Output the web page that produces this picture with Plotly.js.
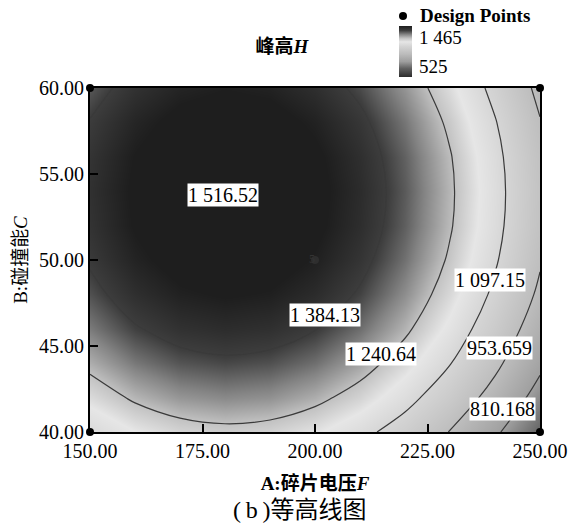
<!DOCTYPE html>
<html>
<head>
<meta charset="utf-8">
<script src="https://cdn.plot.ly/plotly-3.0.1.min.js"></script>
<style>html,body{margin:0;padding:0;background:#fff;}#chart{width:568px;height:524px;}</style>
</head>
<body>
<div id="chart"></div>
<script>
// A: fragmentor voltage F (x), B: collision energy C (y)
const xVals = [150, 160, 170, 180, 190, 200, 210, 220, 230, 240, 250];
const yVals = [40, 42, 44, 46, 48, 50, 52, 54, 56, 58, 60];
// Peak height H estimated on the grid (rows follow yVals, columns follow xVals)
const zRow40 = [1113, 1172, 1208, 1221, 1212, 1181, 1126, 1050, 950, 829, 684];
const zRow42 = [1194, 1253, 1289, 1303, 1294, 1262, 1208, 1131, 1032, 910, 766];
const zRow44 = [1263, 1322, 1358, 1371, 1362, 1331, 1276, 1200, 1101, 979, 834];
const zRow46 = [1319, 1378, 1414, 1427, 1418, 1387, 1332, 1256, 1157, 1035, 890];
const zRow48 = [1362, 1421, 1457, 1470, 1461, 1430, 1376, 1299, 1200, 1078, 934];
const zRow50 = [1393, 1451, 1487, 1501, 1492, 1460, 1406, 1329, 1230, 1108, 964];
const zRow52 = [1410, 1469, 1505, 1519, 1510, 1478, 1424, 1347, 1248, 1126, 982];
const zRow54 = [1416, 1474, 1510, 1524, 1515, 1483, 1429, 1352, 1253, 1131, 987];
const zRow56 = [1408, 1467, 1503, 1516, 1507, 1476, 1421, 1345, 1246, 1124, 979];
const zRow58 = [1388, 1446, 1482, 1496, 1487, 1455, 1401, 1324, 1225, 1103, 959];
const zRow60 = [1355, 1413, 1449, 1463, 1454, 1422, 1368, 1291, 1192, 1070, 926];
const zGrid = [zRow40, zRow42, zRow44, zRow46, zRow48, zRow50, zRow52, zRow54, zRow56, zRow58, zRow60];

// Contour levels (evenly spaced lines) and their labels
const lineLevels = [810.168, 953.659, 1097.15, 1240.64, 1384.13];
const labelLevels = [1516.52, 1384.13, 1240.64, 1097.15, 953.659, 810.168];
const labelX = [179.6, 202.3, 214.7, 238.8, 240.9, 241.6];
const labelY = [53.78, 46.8, 44.53, 48.84, 44.88, 41.31];

// Design points
const designX = [150, 150, 250, 250, 200];
const designY = [40, 60, 40, 60, 50];
const centerReps = ['5'];
const legendLabel = 'Design Points';

// Colour bar range and its labels
const colorMin = 525, colorMax = 1465;
const colorLabels = ['1 465', '525'];

// Axis ticks
const xTickVals = [150, 175, 200, 225, 250];
const xTickText = ['150.00', '175.00', '200.00', '225.00', '250.00'];
const yTickVals = [40, 45, 50, 55, 60];
const yTickText = ['40.00', '45.00', '50.00', '55.00', '60.00'];

const SERIF = '"Liberation Serif", "Times New Roman", "Noto Sans CJK SC", serif';

function fmt(v) {
  const s = Number(v).toPrecision(6);
  const parts = s.split('.');
  const intPart = parts[0].replace(/\B(?=(\d{3})+(?!\d))/g, ' ');
  return parts.length > 1 ? intPart + '.' + parts[1] : intPart;
}

const greyScale = [
  [0, '#2c2c2c'], [0.17, '#626262'], [0.30, '#9e9e9e'], [0.45, '#bcbcbc'],
  [0.60, '#d4d4d4'], [0.69, '#e6e6e6'], [0.76, '#c2c2c2'], [0.835, '#848484'],
  [0.91, '#3e3e3e'], [1, '#1e1e1e']
];

const heat = {
  type: 'heatmap', x: xVals, y: yVals, z: zGrid,
  zmin: colorMin, zmax: colorMax, zsmooth: 'best',
  colorscale: greyScale, showscale: true, hoverinfo: 'skip', showlegend: false,
  colorbar: {
    x: (399 - 90) / 450, xanchor: 'left', xpad: 0,
    y: (432 - 51.5) / 344, yanchor: 'middle', ypad: 0,
    len: 51, lenmode: 'pixels', thickness: 13, thicknessmode: 'pixels',
    outlinewidth: 0, showticklabels: false, ticks: ''
  }
};

const lines = {
  type: 'contour', x: xVals, y: yVals, z: zGrid,
  showscale: false, hoverinfo: 'skip', showlegend: false,
  contours: {
    coloring: 'none', showlabels: false,
    start: lineLevels[0], end: lineLevels[lineLevels.length - 1],
    size: (lineLevels[lineLevels.length - 1] - lineLevels[0]) / (lineLevels.length - 1)
  },
  line: {color: '#3a3a3a', width: 1.2, smoothing: 1}
};

const points = {
  type: 'scatter', mode: 'markers', x: designX, y: designY,
  name: legendLabel, cliponaxis: false, showlegend: false,
  marker: {color: ['#000', '#000', '#000', '#000', '#2e2e2e'], size: 8}, hoverinfo: 'skip'
};

const reps = {
  type: 'scatter', mode: 'text', x: [designX[4]], y: [designY[4]],
  text: centerReps, textposition: 'middle left', showlegend: false,
  textfont: {family: SERIF, size: 12, color: '#343434'}, hoverinfo: 'skip'
};

const annotations = labelLevels.map((lv, i) => ({
  x: labelX[i], y: labelY[i], xref: 'x', yref: 'y',
  text: fmt(lv), showarrow: false, bgcolor: '#ffffff', borderpad: 0,
  font: {family: SERIF, size: 20, color: '#000'}
}));

// legend text (key drawn as a small circle shape)
annotations.push({
  xref: 'paper', yref: 'paper', x: (418 - 90) / 450, y: (432 - 15) / 344,
  xanchor: 'left', yanchor: 'middle', text: '<b>' + legendLabel + '</b>', showarrow: false,
  font: {family: SERIF, size: 19, color: '#000'}
});
// colour bar labels
annotations.push({
  xref: 'paper', yref: 'paper', x: (417 - 90) / 450, y: (432 - 37.5) / 344,
  xanchor: 'left', yanchor: 'middle', text: colorLabels[0], showarrow: false,
  font: {family: SERIF, size: 19, color: '#000'}
});
annotations.push({
  xref: 'paper', yref: 'paper', x: (417 - 90) / 450, y: (432 - 66) / 344,
  xanchor: 'left', yanchor: 'middle', text: colorLabels[1], showarrow: false,
  font: {family: SERIF, size: 19, color: '#000'}
});
// caption
annotations.push({
  xref: 'paper', yref: 'paper', x: (300 - 90) / 450, y: (432 - 510) / 344,
  xanchor: 'center', yanchor: 'middle', text: '(\u2009b\u2009)等高线图', showarrow: false,
  font: {family: SERIF, size: 24, color: '#000'}
});

const shapes = [{
  type: 'circle', xref: 'paper', yref: 'paper',
  x0: (399 - 90) / 450, x1: (407 - 90) / 450,
  y0: (432 - 12) / 344, y1: (432 - 20) / 344,
  fillcolor: '#000', line: {width: 0}
}];

const axisCommon = {
  showline: true, linewidth: 2, linecolor: '#000', mirror: true,
  ticks: 'inside', ticklen: 8, tickwidth: 2, tickcolor: '#000',
  showgrid: false, zeroline: false,
  tickfont: {family: SERIF, size: 20, color: '#000'}
};

const layout = {
  width: 568, height: 524,
  margin: {l: 90, r: 28, t: 88, b: 92},
  paper_bgcolor: '#fff', plot_bgcolor: '#fff',
  showlegend: false,
  title: {
    text: '<b>峰高<i>H</i></b>', xref: 'container', yref: 'container',
    x: 282 / 568, xanchor: 'center', y: 1 - 46 / 524, yanchor: 'middle',
    font: {family: SERIF, size: 19, color: '#000'}
  },
  xaxis: Object.assign({}, axisCommon, {
    range: [150, 250], tickvals: xTickVals, ticktext: xTickText,
    title: {text: '<b>A:碎片电压<i>F</i></b>', standoff: 16,
            font: {family: SERIF, size: 19, color: '#000'}}
  }),
  yaxis: Object.assign({}, axisCommon, {
    range: [40, 60], tickvals: yTickVals, ticktext: yTickText,
    title: {text: 'B:碰撞能<i>C</i>', standoff: 6,
            font: {family: SERIF, size: 19, color: '#000'}}
  }),
  annotations: annotations,
  shapes: shapes
};

Plotly.newPlot('chart', [heat, lines, points, reps], layout, {displayModeBar: false, staticPlot: true});
</script>
</body>
</html>
